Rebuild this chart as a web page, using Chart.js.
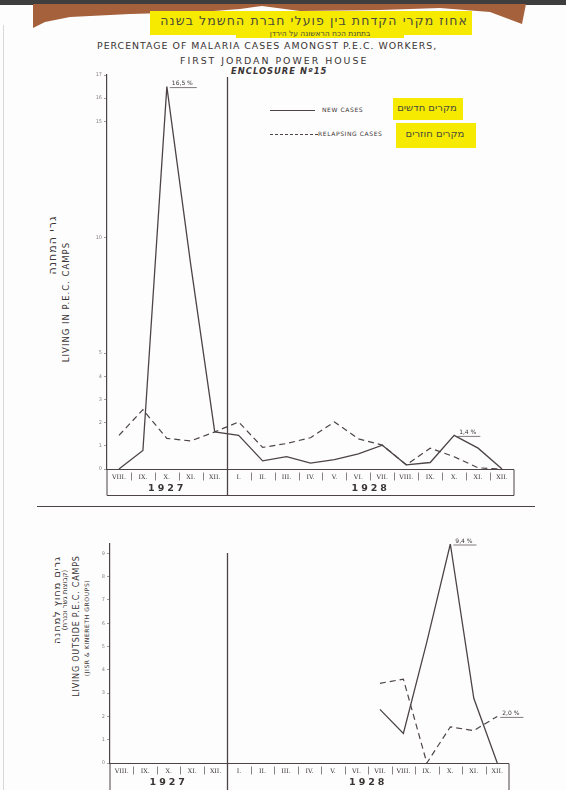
<!DOCTYPE html>
<html><head><meta charset="utf-8">
<script src="https://cdn.jsdelivr.net/npm/chart.js@4/dist/chart.umd.min.js"></script>
<style>
html,body{margin:0;padding:0;background:#fff;}
#page{position:relative;width:566px;height:790px;overflow:hidden;background:#fdfdfd;font-family:"DejaVu Sans",sans-serif;color:#3a3434;}
.abs{position:absolute;white-space:nowrap;}
.rot{position:absolute;white-space:nowrap;transform:translate(-50%,-50%) rotate(-90deg);}
canvas{position:absolute;left:0;}
.hl{position:absolute;background:#f6ea00;}
</style></head><body><div id="page">
<div class="abs" style="left:0;top:0;width:566px;height:5px;background:#3e3e3e"></div>
<div class="abs" style="left:0;top:0;width:566px;height:40px;background:#a5603c;clip-path:polygon(33px 4px,33px 28px,45px 22px,70px 17px,130px 14px,200px 12px,240px 9px,262px 6px,300px 11px,380px 10px,440px 8px,490px 12px,522px 24px,526px 4px)"></div>
<div class="hl" style="left:150px;top:11px;width:322px;height:24px;"></div>
<div class="hl" style="left:236px;top:31px;width:168px;height:7px;"></div>
<div class="abs" dir="rtl" style="left:150px;top:13px;width:318px;text-align:right;font-size:12.5px;letter-spacing:1.1px;color:#4a4a3a;font-family:'DejaVu Sans'">אחוז מקרי הקדחת בין פועלי חברת החשמל בשנה</div>
<div class="abs" dir="rtl" style="left:236px;top:29px;width:168px;text-align:center;font-size:7.5px;color:#4a4a3a;">בתחנת הכח הראשונה על הירדן</div>
<div class="abs" style="left:97px;top:40px;font-size:9.4px;letter-spacing:1px;">PERCENTAGE OF MALARIA CASES AMONGST P.E.C. WORKERS,</div>
<div class="abs" style="left:180px;top:55px;font-size:9.4px;letter-spacing:2px;">FIRST JORDAN POWER HOUSE</div>
<div class="abs" style="left:231px;top:66px;font-size:8.4px;font-weight:bold;font-style:italic;letter-spacing:1px;">ENCLOSURE Nº15</div>

<div class="abs" style="left:270px;top:110px;width:45px;border-top:1.2px solid #4d4446"></div>
<div class="abs" style="left:322px;top:106px;font-size:6px;letter-spacing:0.6px;">NEW CASES</div>
<div class="hl" style="left:393px;top:98px;width:70px;height:22px;"></div>
<div class="abs" dir="rtl" style="left:393px;top:102px;width:68px;text-align:center;font-size:10px;color:#4a4a3a;">מקרים חדשים</div>
<div class="abs" style="left:270px;top:134px;width:48px;border-top:1.2px dashed #4d4446"></div>
<div class="abs" style="left:318px;top:130px;font-size:6px;letter-spacing:0.6px;">RELAPSING CASES</div>
<div class="hl" style="left:396px;top:123px;width:80px;height:25px;"></div>
<div class="abs" dir="rtl" style="left:396px;top:128px;width:78px;text-align:center;font-size:10px;color:#4a4a3a;">מקרים חוזרים</div>

<div class="rot" style="left:52px;top:245px;font-size:11px;letter-spacing:1px;">גרי המחנה</div>
<div class="rot" style="left:66px;top:302px;font-size:8.5px;letter-spacing:1px;">LIVING IN P.E.C. CAMPS</div>

<div class="rot" style="left:56px;top:600px;font-size:10px;letter-spacing:0.8px;">גרים מחוץ למחנה</div>
<div class="rot" style="left:65px;top:600px;font-size:7px;">(קבוצות גשר וכנרת)</div>
<div class="rot" style="left:76px;top:626px;font-size:8px;letter-spacing:0.8px;">LIVING OUTSIDE P.E.C. CAMPS</div>
<div class="rot" style="left:86px;top:628px;font-size:6px;letter-spacing:0.6px;">(JISR &amp; KINERETH GROUPS)</div>

<div class="abs" style="left:37px;top:506px;width:498px;border-top:1.6px solid #4a4446"></div>
<div class="abs" style="left:3px;top:25px;width:0;height:765px;border-left:1px solid #d8d8d8"></div>

<canvas id="c1" width="566" height="500" style="top:0"></canvas>
<canvas id="c2" width="566" height="270" style="top:520px"></canvas>
</div>
<script>
const months = ['VIII.','IX.','X.','XI.','XII.','I.','II.','III.','IV.','V.','VI.','VII.','VIII.','IX.','X.','XI.','XII.'];
const years = ['1927','1928'];
const campNew      = [0, 0.8, 16.5, 8.8, 1.6, 1.45, 0.35, 0.53, 0.25, 0.4, 0.65, 1.03, 0.18, 0.28, 1.45, 0.9, 0];
const campRelapse  = [1.45, 2.56, 1.32, 1.21, 1.6, 2.03, 0.93, 1.1, 1.35, 2.03, 1.3, 1.03, 0.18, 0.9, 0.53, 0.05, 0];
const outsideNew     = [null,null,null,null,null,null,null,null,null,null,null, 2.3, 1.27, 5.2, 9.4, 2.78, 0];
const outsideRelapse = [null,null,null,null,null,null,null,null,null,null,null, 3.42, 3.6, 0, 1.55, 1.39, 2.0];
const campTicks = [0,1,2,3,4,5,10,15,16,17];
const outsideTicks = [0,1,2,3,4,5,6,7,8,9];
const campNotes = [{i:2, v:16.5, text:'16,5 %'}, {i:14, v:1.45, text:'1,4 %'}];
const outsideNotes = [{i:14, v:9.4, text:'9,4 %'}, {i:16, v:2.0, text:'2,0 %'}];

const INK = '#4d4446';

const boxPlugin = {
  id: 'box',
  afterDraw(chart, args, o) {
    const {ctx, chartArea: a, scales: {x, y}} = chart;
    const y0 = Math.round(y.getPixelForValue(0)) + 0.5;
    ctx.save();
    ctx.strokeStyle = INK; ctx.lineWidth = 1;
    ctx.beginPath();
    ctx.moveTo(a.left, y0); ctx.lineTo(a.right, y0);
    ctx.lineTo(a.right, y0 + o.h); ctx.lineTo(a.left, y0 + o.h); ctx.lineTo(a.left, y0);
    ctx.stroke();
    const n = months.length;
    ctx.lineWidth = 0.8; ctx.strokeStyle = '#6a6264';
    for (let i = 1; i < n; i++) {
      if (i === 5) continue;
      const px = Math.round((x.getPixelForValue(i - 1) + x.getPixelForValue(i)) / 2) + 0.5;
      ctx.beginPath(); ctx.moveTo(px, y0 + 3); ctx.lineTo(px, y0 + 11); ctx.stroke();
    }
    const dx = Math.round((x.getPixelForValue(4) + x.getPixelForValue(5)) / 2) + 0.5;
    ctx.lineWidth = 1.3; ctx.strokeStyle = INK;
    ctx.beginPath(); ctx.moveTo(dx, o.divTop); ctx.lineTo(dx, y0 + o.h); ctx.stroke();
    ctx.fillStyle = '#3a3434';
    ctx.font = '6.3px "DejaVu Serif"'; ctx.textAlign = 'center'; ctx.textBaseline = 'middle';
    for (let i = 0; i < n; i++) ctx.fillText(months[i], x.getPixelForValue(i), y0 + 7.5);
    ctx.font = 'bold 9.5px "DejaVu Sans"';
    ctx.letterSpacing = '3px';
    ctx.fillText(years[0], (a.left + dx) / 2, y0 + 19.5);
    ctx.fillText(years[1], (dx + a.right) / 2, y0 + 19.5);
    ctx.letterSpacing = '0px';
    ctx.font = '6px "DejaVu Sans"'; ctx.textAlign = 'left';
    ctx.lineWidth = 0.7;
    (o.notes || []).forEach(nt => {
      const px = x.getPixelForValue(nt.i) + 5, py = y.getPixelForValue(nt.v) - 3;
      ctx.fillText(nt.text, px, py);
      const w = ctx.measureText(nt.text).width;
      ctx.beginPath(); ctx.moveTo(px - 2, py + 4); ctx.lineTo(px + w + 4, py + 4); ctx.stroke();
    });
    ctx.restore();
  }
};

function makeChart(id, d1, d2, opts) {
  const cv = document.getElementById(id);
  return new Chart(cv, {
    type: 'line',
    data: {
      labels: months,
      datasets: [
        {data: d1, borderColor: INK, borderWidth: 1.3, pointRadius: 0, tension: 0, spanGaps: false},
        {data: d2, borderColor: INK, borderWidth: 1.2, borderDash: [6, 4], pointRadius: 0, tension: 0, spanGaps: false}
      ]
    },
    options: {
      responsive: false, animation: false, devicePixelRatio: 1,
      layout: {padding: {left: 0, right: opts.right, top: opts.top, bottom: 0}},
      plugins: {legend: {display: false}, tooltip: {enabled: false},
        box: {h: opts.boxH, divTop: opts.divTop, notes: opts.notes}},
      scales: {
        x: {type: 'category', offset: true,
          grid: {display: false}, border: {display: false}, ticks: {display: false},
          afterFit(s) { s.height = opts.xH; }},
        y: {min: 0, max: opts.ymax,
          afterBuildTicks(s) { s.ticks = opts.ticks.map(v => ({value: v})); },
          grid: {display: true, drawOnChartArea: false, tickLength: 3, color: '#8a8284', lineWidth: 0.8},
          border: {display: true, color: INK, width: 1.2},
          ticks: {font: {size: 5, family: 'DejaVu Sans'}, color: '#8a8284', padding: 2},
          afterFit(s) { s.width = opts.left; }}
      }
    },
    plugins: [boxPlugin]
  });
}

makeChart('c1', campNew, campRelapse, {left: 107, right: 52, top: 75, xH: 31, ymax: 17,
  ticks: campTicks, boxH: 26, divTop: 77, notes: campNotes});
makeChart('c2', outsideNew, outsideRelapse, {left: 110, right: 57, top: 24, xH: 27, ymax: 9.4,
  ticks: outsideTicks, boxH: 27, divTop: 33, notes: outsideNotes});
</script>
</body></html>
